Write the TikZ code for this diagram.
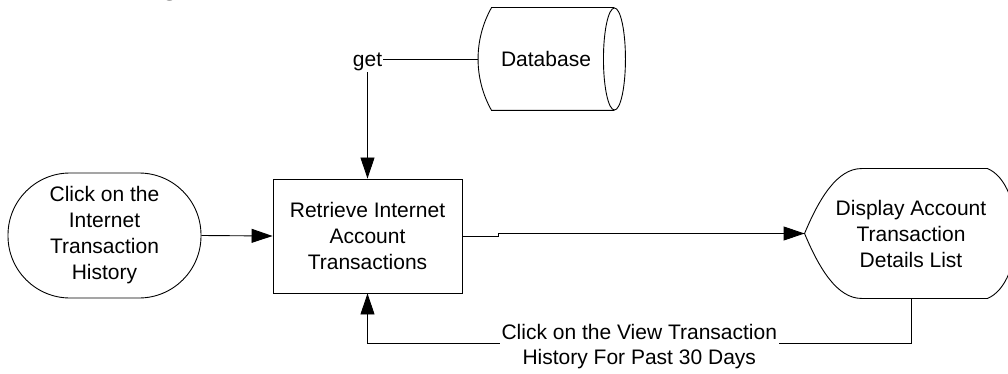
\documentclass[tikz,border=0pt]{standalone}
\usepackage{fontspec}
\setmainfont{Liberation Sans}
\usetikzlibrary{arrows.meta,calc,positioning}

\begin{document}
\begin{tikzpicture}[x=1pt,y=-1pt,line width=0.9pt,
  every node/.style={font=\fontsize{21}{26}\selectfont,align=center},
  arr/.style={-{Triangle[length=21pt,width=14pt]}},
  term/.style={draw,rounded corners=62pt,minimum width=193pt,minimum height=125pt},
  proc/.style={draw,minimum width=189pt,minimum height=114pt}]
\useasboundingbox (0,0) rectangle (1008,374);
%title, cut off at the top
\node[font=\fontsize{30}{36}\bfseries\selectfont,anchor=base] (title) at (170,-5) {g};
%nodes
\node[term] (click) at (104.5,235.5) {Click on the\\Internet\\Transaction\\History};
\node[proc] (retrieve) at (367.5,236) {Retrieve Internet\\Account\\Transactions};
\node[minimum width=136pt,minimum height=102pt] (db) at (546,59) {Database};
\node[minimum width=212pt,minimum height=129pt] (disp) at (911,233.5) {Display Account\\Transaction\\Details List};
%database outline
\coordinate (DB1) at ($(db.north west)+(14,0)$);
\coordinate (DB2) at ($(db.south west)+(14,0)$);
\draw (db.north east) -- (DB1) .. controls ($(DB1)+(-18,32)$) and ($(DB2)+(-18,-32)$) .. (DB2) -- (db.south east);
\draw (db.east) ellipse [x radius=11,y radius=51];
%display outline
\coordinate (D1) at ($(disp.north west)+(57,0)$);
\coordinate (D2) at ($(disp.north east)+(-30,0)$);
\coordinate (D3) at ($(disp.south east)+(-30,0)$);
\coordinate (D4) at ($(disp.south west)+(57,0)$);
\draw (disp.west) .. controls ($(disp.west)+(15,-36)$) and ($(D1)+(-24,0)$) .. (D1) -- (D2)
  .. controls ($(D2)+(38,16)$) and ($(D3)+(38,-16)$) .. (D3) -- (D4)
  .. controls ($(D4)+(-24,0)$) and ($(disp.west)+(15,36)$) .. (disp.west);
%connectors
\draw[arr] (click.east) -- (retrieve.west);
\draw[arr] (db.west) -| node[pos=0.5,fill=white,inner sep=1pt,yshift=-3pt] (getlbl) {get} (retrieve.north);
\draw[arr] (retrieve.east) -- ++(36,0) |- (disp.west);
\draw[arr] (disp.south) -- ++(0,45) -| node[pos=0.25,fill=white,inner sep=2pt,yshift=-3pt,font=\fontsize{21}{25}\selectfont] (back) {Click on the View Transaction\\History For Past 30 Days} (retrieve.south);
\end{tikzpicture}
\end{document}
